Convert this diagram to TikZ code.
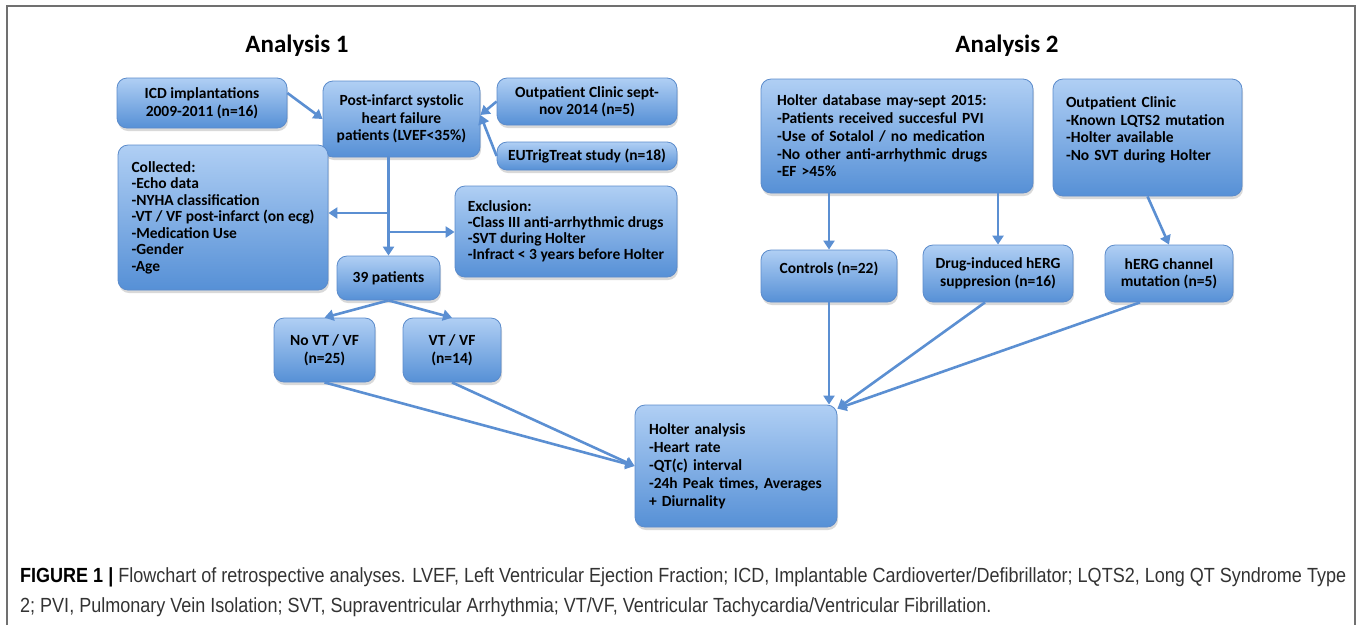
\documentclass[tikz,border=0pt]{standalone}
\usepackage{fontspec}
\usepackage{graphicx}
\setmainfont{Carlito}
\newfontfamily\capfont[FakeStretch=0.88]{Liberation Sans}
\usetikzlibrary{arrows.meta,shadows}

\definecolor{boxtop}{HTML}{B0CFF4}
\definecolor{boxbot}{HTML}{5690D6}
\definecolor{boxline}{HTML}{5B8BCB}
\definecolor{flowblue}{HTML}{5B8FD2}
\definecolor{framegray}{HTML}{707070}
\definecolor{capgray}{HTML}{333333}

\begin{document}
\begin{tikzpicture}[x=1pt,y=-1pt]
	\tikzstyle{box} = [draw=boxline, line width=0.8pt, rounded corners=10pt, top color=boxtop, bottom color=boxbot, drop shadow={opacity=0.3, shadow xshift=1pt, shadow yshift=-3pt}, font=\bfseries\fontsize{15.5}{17.5}\selectfont, inner sep=0pt, align=center]
	\tikzstyle{lbox} = [box, align=left]
	\tikzstyle{flow} = [draw=flowblue, line width=2.6pt, -{Triangle[length=9pt,width=11pt]}]
	\tikzstyle{title} = [font=\bfseries\fontsize{25}{29}\selectfont]
	\useasboundingbox (0,0) rectangle (1358,625);
	\draw [framegray, line width=1.2pt] (7,625) -- (7,6) -- (1355,6) -- (1355,625);
	
	% analysis 1
	\node [title] (a1) at (297,46) {Analysis 1};
	\node [box, minimum width=170pt, minimum height=50pt] (icd) at (202,103) {ICD implantations\\2009-2011 (n=16)};
	\node [box, minimum width=157pt, minimum height=76pt] (post) at (401.5,119) {Post-infarct systolic\\heart failure\\patients (LVEF<35\%)};
	\node [box, minimum width=180pt, minimum height=47pt] (outL) at (587,101.5) {Outpatient Clinic sept-\\nov 2014 (n=5)};
	\node [box, minimum width=180pt, minimum height=28pt] (eut) at (587,156) {EUTrigTreat study (n=18)};
	\node [lbox, minimum width=210pt, minimum height=145pt, font=\bfseries\fontsize{15.5}{16.5}\selectfont] (coll) at (223,217.5) {Collected:\\-Echo data\\-NYHA classification\\-VT / VF post-infarct (on ecg)\\-Medication Use\\-Gender\\-Age};
	\node [lbox, minimum width=222pt, minimum height=91pt, font=\bfseries\fontsize{15.5}{16}\selectfont] (excl) at (566,231.5) {Exclusion:\\-Class III anti-arrhythmic drugs\\-SVT during Holter\\-Infract < 3 years before Holter};
	\node [box, minimum width=103pt, minimum height=44pt] (p39) at (388.5,278) {39 patients};
	\node [box, minimum width=101pt, minimum height=64pt] (novt) at (324.5,350) {No VT / VF\\(n=25)};
	\node [box, minimum width=98pt, minimum height=64pt] (vt) at (452,350) {VT / VF\\(n=14)};
	\node [lbox, text width=174pt, inner xsep=14pt, minimum height=122pt, font=\bfseries\fontsize{15.5}{18}\selectfont] (hol) at (736,466) {Holter analysis\\-Heart rate\\-QT(c) interval\\-24h Peak times, Averages\\+ Diurnality};
	
	% analysis 2
	\node [title] (a2) at (1007,46) {Analysis 2};
	\node [lbox, text width=240pt, inner xsep=16pt, minimum height=114pt, font=\bfseries\fontsize{15.5}{17.75}\selectfont] (hdb) at (897,136) {Holter database may-sept 2015:\\-Patients received succesful PVI\\-Use of Sotalol / no medication\\-No other anti-arrhythmic drugs\\-EF >45\%};
	\node [lbox, text width=163pt, inner xsep=13pt, minimum height=117pt, font=\bfseries\fontsize{15.5}{17.75}\selectfont] (outR) at (1147.5,137.5) {Outpatient Clinic\\-Known LQTS2 mutation\\-Holter available\\-No SVT during Holter\\\mbox{}};
	\node [box, minimum width=136pt, minimum height=52pt] (ctl) at (829,276) {Controls (n=22)\\[0pt]};
	\node [box, minimum width=150pt, minimum height=57pt] (drug) at (998,273.5) {Drug-induced hERG\\suppresion (n=16)};
	\node [box, minimum width=128pt, minimum height=57pt] (herg) at (1169,273.5) {hERG channel\\mutation (n=5)};
	
	% connectors
	\coordinate (j1) at (388.5,213);
	\coordinate (j2) at (388.5,232);
	\draw [flow] ([yshift=10pt]icd.east) -- (post.west);
	\draw [flow] (outL.west) -- ([yshift=4pt]post.east);
	\draw [flow] (eut.west) -- ([yshift=4pt]post.east);
	\draw [flow] (post.south -| p39.north) -- (p39.north);
	\draw [flow] (j1) -- (j1 -| coll.east);
	\draw [flow] (j2) -- (j2 -| excl.west);
	\draw [flow] (p39.south) -- (novt.north);
	\draw [flow] (p39.south) -- (vt.north);
	\draw [flow] (novt.south) -- (hol.west);
	\draw [flow] (vt.south) -- (hol.west);
	\draw [flow] (ctl.north |- hdb.south) -- (ctl.north);
	\draw [flow] (drug.north |- hdb.south) -- (drug.north);
	\draw [flow] (outR.south) -- (herg.north);
	\draw [flow] (ctl.south) -- (ctl.south |- hol.north);
	\draw [flow] ([xshift=-13pt]drug.south) -- ([yshift=-4pt]hol.north east);
	\draw [flow] ([xshift=-29pt]herg.south) -- ([yshift=-4pt]hol.north east);
	
	% caption
	\node [anchor=north west, inner sep=0pt, text=capgray] (cap) at (20,562) {\resizebox{1326pt}{!}{\capfont\fontsize{16}{23}\selectfont\begin{tabular}{@{}l@{}}{\color{black}\textbf{FIGURE 1 |}} Flowchart of retrospective analyses. LVEF, Left Ventricular Ejection Fraction; ICD, Implantable Cardioverter/Defibrillator; LQTS2, Long QT Syndrome Type\\2; PVI, Pulmonary Vein Isolation; SVT, Supraventricular Arrhythmia; VT/VF, Ventricular Tachycardia/Ventricular Fibrillation.\end{tabular}}};
\end{tikzpicture}
\end{document}
